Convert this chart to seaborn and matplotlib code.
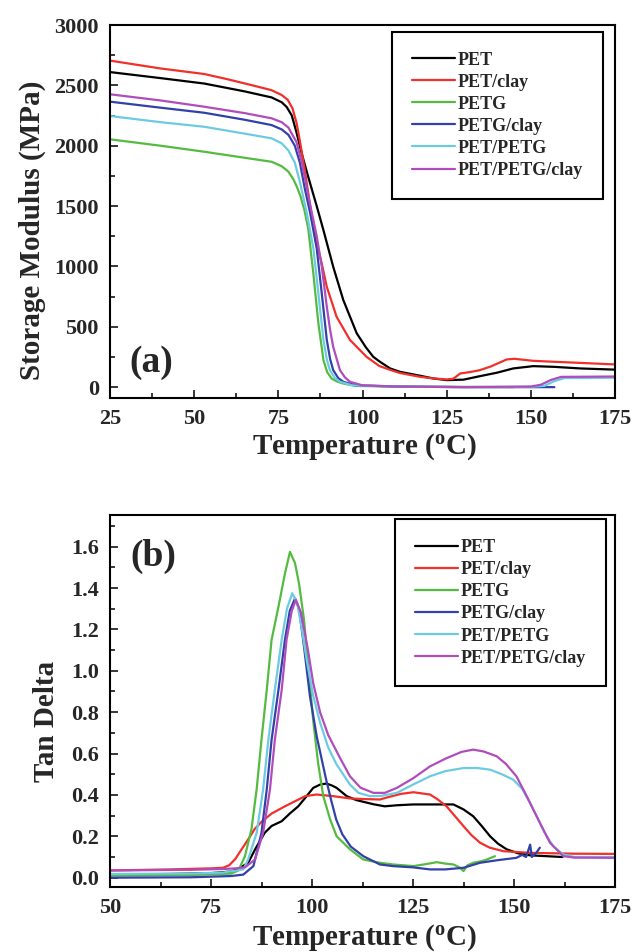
import numpy as np
import pandas as pd
import matplotlib
matplotlib.use("Agg")
import matplotlib.pyplot as plt
from matplotlib.ticker import MultipleLocator
import seaborn as sns

# ---- series names and colours ----
series = ["PET", "PET/clay", "PETG", "PETG/clay", "PET/PETG", "PET/PETG/clay"]
colors = ["#000000", "#f0302a", "#55bb40", "#3340a8", "#6ccbe2", "#b04cbc"]

# ---- (a) storage modulus, MPa ----
pet_T = [25, 40, 53, 65, 73, 76, 77.5, 79, 80.4, 81.9, 83.9, 86.4, 88.4, 91.3, 94.3, 98.3, 101, 103.2,
         105.2, 108.2, 111.1, 117, 121, 125, 130, 134.9, 140, 144.8, 150.7, 157, 164.6, 175]
pet_E = [2610, 2560, 2515, 2450, 2400, 2360, 2320, 2250, 2110, 1940, 1740, 1500, 1300, 997, 721, 445, 330,
         251, 210, 155, 127, 95, 72, 58, 62, 91, 120, 155, 174, 168, 155, 145]

petclay_T = [25, 40, 53, 60, 66.6, 73, 76, 77.8, 79.2, 80.4, 81.4, 82.9, 84.5, 86.2, 87.6, 89.4, 92.3,
             96.3, 101.2, 105, 108, 111, 117, 121, 125, 127, 129, 132, 134.9, 138, 142.8, 145, 150.7,
             157, 164.6, 175]
petclay_E = [2705, 2640, 2594, 2550, 2505, 2460, 2420, 2380, 2310, 2190, 2040, 1790, 1490, 1200, 1060, 831,
             583, 390, 251, 175, 145, 118, 86, 72, 64, 70, 113, 125, 141, 170, 229, 235, 218, 210, 201,
             188]

petg_T = [25, 40, 53, 65, 73, 76, 78, 79.5, 80.5, 81.6, 82.8, 83.9, 85.4, 86.9, 88.4, 89.5, 90.8, 92.5,
          94.3, 98, 110, 145]
petg_E = [2053, 2000, 1950, 1900, 1867, 1830, 1785, 1720, 1660, 1580, 1460, 1310, 942, 528, 224, 125, 72,
          45, 30, 10, 5, 0]

petgclay_T = [25, 40, 53, 65, 73, 76, 78, 79.9, 81.4, 82.9, 84.4, 86.4, 87.9, 89.4, 90.4, 91.3, 92.8,
              94.3, 98, 110, 130, 150, 157]
petgclay_E = [2365, 2315, 2273, 2215, 2171, 2135, 2090, 2000, 1860, 1640, 1450, 1150, 776, 390, 230, 141,
              75, 44, 15, 5, 0, 0, 0]

blend_T = [25, 40, 53, 65, 73, 76, 78, 79.9, 81.4, 83.4, 85.4, 86.9, 88.4, 89.4, 90.3, 91.8, 93.3, 97,
           110, 130, 150, 154, 157, 160, 175]
blend_E = [2246, 2195, 2157, 2100, 2061, 2020, 1960, 1860, 1700, 1450, 1150, 776, 390, 230, 141, 75, 44,
           15, 5, 0, 3, 10, 50, 75, 78]

blendclay_T = [25, 40, 53, 65, 73, 76, 78, 80.4, 81.9, 83.4, 84.9, 86.4, 87.9, 89.4, 90.4, 91.3, 93.3,
               94.8, 96.3, 100, 110, 130, 150, 153, 156, 159, 175]
blendclay_E = [2426, 2375, 2323, 2270, 2227, 2195, 2150, 2030, 1870, 1660, 1450, 1250, 1000, 665, 470, 334,
               141, 80, 44, 15, 5, 0, 5, 20, 60, 85, 88]

# ---- (b) tan delta ----
pet_tT = [50, 65, 75, 80, 82, 84.2, 86, 88.3, 90, 92.5, 94.5, 96.6, 98.5, 100.3, 102, 103.6, 105, 106.1,
          108.6, 111, 115.2, 118, 121, 125, 129.2, 135, 137.5, 139.9, 142, 144.1, 146, 148.2, 151, 154,
          162]
pet_tan = [0.015, 0.018, 0.022, 0.03, 0.045, 0.072, 0.14, 0.217, 0.25, 0.273, 0.31, 0.345, 0.39, 0.434,
           0.45, 0.455, 0.445, 0.434, 0.394, 0.375, 0.355, 0.345, 0.350, 0.354, 0.354, 0.354, 0.33, 0.297,
           0.25, 0.2, 0.165, 0.137, 0.118, 0.108, 0.1]

petclay_tT = [50, 65, 75, 78, 79.5, 81, 82.5, 84.2, 85.8, 87.5, 90, 93.3, 98.3, 101.1, 105.3, 109.4, 113,
              116.8, 119, 122, 125.1, 129.2, 131, 133.3, 135.5, 137.5, 139.5, 141.6, 144, 147.4, 154, 165,
              175]
petclay_tan = [0.035, 0.04, 0.045, 0.048, 0.06, 0.09, 0.135, 0.185, 0.235, 0.27, 0.31, 0.345, 0.394, 0.402,
               0.394, 0.383, 0.38, 0.378, 0.39, 0.405, 0.413, 0.402, 0.38, 0.345, 0.295, 0.249, 0.205,
               0.169, 0.145, 0.128, 0.12, 0.116, 0.115]

petg_tT = [50, 70, 78, 80, 81.8, 83.4, 85.0, 86.3, 87.5, 88.8, 90.0, 91.7, 93.3, 94.55, 95.8, 96.8, 98.0,
           99.1, 100.3, 101.5, 102.8, 104.5, 106.1, 109.4, 112.7, 116.8, 120, 125.1, 128, 130.9, 133, 135,
           136.5, 137.5, 138.5, 139.9, 142, 143.3, 145.3]
petg_tan = [0.010, 0.013, 0.018, 0.02, 0.035, 0.104, 0.233, 0.427, 0.667, 0.908, 1.15, 1.31, 1.47, 1.575,
            1.52, 1.42, 1.25, 1.02, 0.76, 0.555, 0.394, 0.281, 0.2, 0.137, 0.088, 0.072, 0.064, 0.056,
            0.065, 0.075, 0.068, 0.064, 0.05, 0.032, 0.06, 0.072, 0.08, 0.088, 0.104]

petgclay_tT = [50, 70, 80, 83, 85.5, 87.5, 88.8, 90.0, 91.7, 93.3, 94.5, 95.8, 96.8, 98, 99.5, 101.2,
               103.5, 104.8, 106, 107.5, 109.6, 112.7, 116.8, 120, 125, 129.2, 133, 137.5, 141.6, 145.7,
               150.6, 152, 153, 154, 154.4, 155.5, 156.4]
petgclay_tan = [0.0, 0.002, 0.008, 0.015, 0.056, 0.217, 0.427, 0.667, 0.908, 1.15, 1.29, 1.35, 1.3, 1.12,
                0.876, 0.68, 0.474, 0.37, 0.281, 0.21, 0.15, 0.104, 0.064, 0.056, 0.05, 0.04, 0.04, 0.048,
                0.072, 0.084, 0.096, 0.11, 0.1, 0.16, 0.1, 0.12, 0.145]

blend_tT = [50, 70, 78, 83, 84.2, 86.3, 87.9, 89.2, 90.8, 92.5, 93.8, 95.1, 96.3, 97.5, 98.7, 100.3, 102,
            104, 106, 109.4, 111.5, 114.4, 117, 121, 125, 129.2, 133, 137.5, 141, 144.1, 147, 149.8, 152,
            154, 155.6, 157.5, 159.7, 162.2, 165, 175]
blend_tan = [0.018, 0.02, 0.025, 0.04, 0.088, 0.217, 0.427, 0.667, 0.908, 1.15, 1.3, 1.375, 1.33, 1.2,
             1.05, 0.88, 0.75, 0.63, 0.55, 0.45, 0.41, 0.394, 0.395, 0.41, 0.45, 0.49, 0.515, 0.53, 0.53,
             0.522, 0.5, 0.474, 0.43, 0.36, 0.297, 0.22, 0.152, 0.112, 0.1, 0.1]

blendclay_tT = [50, 70, 78, 81, 83.4, 85.9, 87.9, 89.6, 90.8, 92.5, 93.7, 95, 96.0, 97.3, 99, 100.3, 102,
                104, 106.9, 109.4, 112, 115.2, 118, 121, 125, 129.2, 133, 137, 139.9, 142.5, 145.7, 148,
                150.6, 153, 155.6, 158.9, 162.2, 165, 175]
blendclay_tan = [0.035, 0.038, 0.042, 0.045, 0.05, 0.088, 0.217, 0.427, 0.667, 0.908, 1.15, 1.29, 1.342,
                 1.28, 1.1, 0.94, 0.8, 0.69, 0.58, 0.49, 0.435, 0.41, 0.41, 0.434, 0.48, 0.538, 0.575, 0.608,
                 0.619, 0.61, 0.587, 0.55, 0.49, 0.4, 0.297, 0.169, 0.104, 0.097, 0.096]

storage = [(pet_T, pet_E), (petclay_T, petclay_E), (petg_T, petg_E),
           (petgclay_T, petgclay_E), (blend_T, blend_E), (blendclay_T, blendclay_E)]
tandelta = [(pet_tT, pet_tan), (petclay_tT, petclay_tan), (petg_tT, petg_tan),
            (petgclay_tT, petgclay_tan), (blend_tT, blend_tan), (blendclay_tT, blendclay_tan)]


def long_frame(pairs):
    frames = []
    for name, (t, v) in zip(series, pairs):
        frames.append(pd.DataFrame({"T": t, "value": v, "sample": name}))
    return pd.concat(frames, ignore_index=True)


sns.set_theme(style="ticks")
plt.rcParams["font.family"] = ["Liberation Serif", "DejaVu Serif"]
plt.rcParams["font.weight"] = "bold"
plt.rcParams["mathtext.default"] = "regular"
plt.rcParams["axes.linewidth"] = 1.5

fig = plt.figure(figsize=(6.34, 9.52), dpi=100)
ax_a = fig.add_axes([110 / 634, 1 - 398 / 952, 505 / 634, 373 / 952])
ax_b = fig.add_axes([110 / 634, 1 - 887 / 952, 505 / 634, 372 / 952])

palette = dict(zip(series, colors))


def draw_panel(ax, df, xlim, ylim, xmaj, xmin, ymaj, ymin, ylabel, ylab_pos, xlab_y,
               tag, tag_xy, leg_anchor):
    sns.lineplot(data=df, x="T", y="value", hue="sample", hue_order=series, palette=palette,
                 estimator=None, sort=False, legend=False, lw=1.6, ax=ax)
    ax.set_xlim(*xlim)
    ax.set_ylim(*ylim)
    ax.xaxis.set_major_locator(MultipleLocator(xmaj))
    ax.xaxis.set_minor_locator(MultipleLocator(xmin))
    ax.yaxis.set_major_locator(MultipleLocator(ymaj))
    ax.yaxis.set_minor_locator(MultipleLocator(ymin))
    ax.tick_params(which="both", direction="in", top=False, right=False, width=1.3,
                   labelsize=16, pad=8)
    ax.tick_params(which="major", length=6)
    ax.tick_params(which="minor", length=3.5)
    for lab in ax.get_xticklabels() + ax.get_yticklabels():
        lab.set_fontweight("bold")
    for sp in ax.spines.values():
        sp.set_visible(True)
        sp.set_linewidth(1.5)
        sp.set_color("black")
    ax.set_xlabel(r"Temperature ($^{o}$C)", fontsize=21, fontweight="bold", va="center")
    ax.xaxis.set_label_coords(0.503, xlab_y)
    ax.set_ylabel(ylabel, fontsize=21, fontweight="bold", va="center", ha="center")
    ax.yaxis.set_label_coords(*ylab_pos)
    ax.text(tag_xy[0], tag_xy[1], tag, fontsize=27, fontweight="bold", ha="center", va="center")
    handles = ax.get_lines()[:len(series)]
    leg = ax.legend(handles, series, loc="upper right", bbox_to_anchor=leg_anchor,
                    borderaxespad=0, frameon=True, fancybox=False, edgecolor="black",
                    framealpha=1, prop={"family": "Liberation Serif", "weight": "bold", "size": 13},
                    handlelength=2.4, handletextpad=0.15, labelspacing=0.28, borderpad=1.1)
    leg.get_frame().set_linewidth(1.5)


draw_panel(ax_a, long_frame(storage), (25, 175), (-90, 3000), 25, 12.5, 500, 250,
           "Storage Modulus (MPa)", (-0.154, 0.45), -0.131, "(a)", (37.2, 200),
           (0.976, 0.982))
draw_panel(ax_b, long_frame(tandelta), (50, 175), (-0.045, 1.753), 25, 12.5, 0.2, 0.1,
           "Tan Delta", (-0.126, 0.445), -0.137, "(b)", (60.8, 1.555),
           (0.982, 0.988))

fig.savefig("out.png", dpi=100)
